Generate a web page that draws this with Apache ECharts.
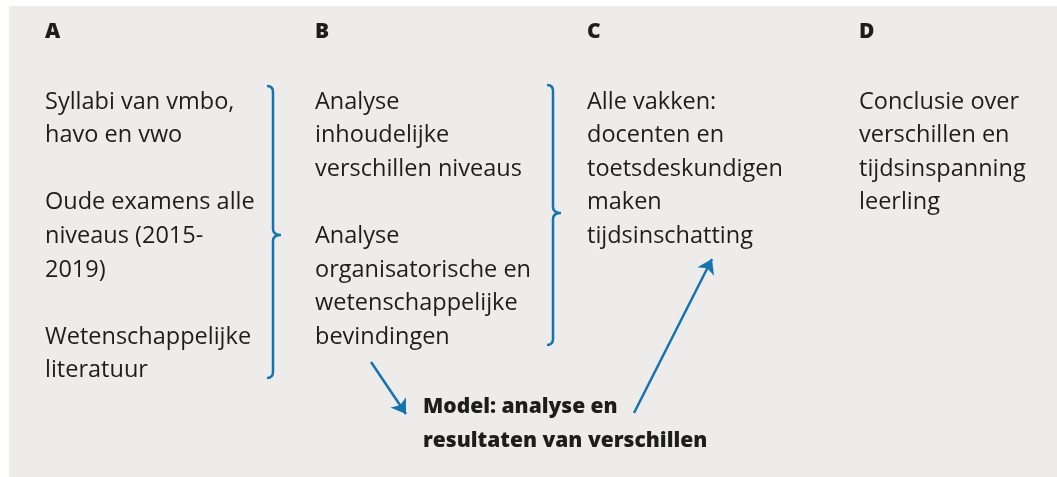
<!DOCTYPE html>
<html>
<head>
    <meta charset="utf-8"/>
    <title>Model tijdsinspanning</title>
    <script src="https://cdn.jsdelivr.net/npm/echarts@6/dist/echarts.min.js"></script>
    <style>
        html, body { margin: 0; padding: 0; background: #ffffff; }
        #main { width: 1057px; height: 477px; }
    </style>
</head>
<body>
<div id="main"></div>
<script>
    // kolomkoppen en teksten per kolom (lege regel = witregel)
    var headers = ['A', 'B', 'C', 'D'];
    var colA = ['Syllabi van vmbo,', 'havo en vwo', '', 'Oude examens alle', 'niveaus (2015-', '2019)', '', 'Wetenschappelijke', 'literatuur'];
    var colB = ['Analyse', 'inhoudelijke', 'verschillen niveaus', '', 'Analyse', 'organisatorische en', 'wetenschappelijke', 'bevindingen'];
    var colC = ['Alle vakken:', 'docenten en', 'toetsdeskundigen', 'maken', 'tijdsinschatting'];
    var colD = ['Conclusie over', 'verschillen en', 'tijdsinspanning', 'leerling'];
    var modelLines = ['Model: analyse en', 'resultaten van verschillen'];

    // layout (pixels)
    var colX = [45, 315, 587, 859];
    var headerY = 32;
    var rowY0 = 102, rowH = 33.6;
    var modelX = 423, modelY0 = 407;
    var braces = [[273, 86, 378, 235], [553, 85, 345, 213]];   // x, top, bottom, tip
    var arrows = [[[371, 362], [406, 414]], [[634, 413], [712, 259]]];

    var blue = '#1574b0';
    var ink = '#1d1d1b';
    var bodyFont = '23.5px "Open Sans"';
    var boldFont = '800 21px "Open Sans"';

    var textData = [];
    headers.forEach(function (h, i) {
        textData.push({value: [colX[i], headerY], name: h, bold: true});
    });
    [colA, colB, colC, colD].forEach(function (col, i) {
        col.forEach(function (t, r) {
            if (t) textData.push({value: [colX[i], rowY0 + r * rowH], name: t});
        });
    });
    modelLines.forEach(function (t, r) {
        textData.push({value: [modelX, modelY0 + r * rowH], name: t, bold: true});
    });

    var myChart = echarts.init(document.getElementById('main'));
    var option = {
        animation: false,
        grid: {left: 0, right: 0, top: 0, bottom: 0},
        xAxis: {type: 'value', min: 0, max: 1057, show: false},
        yAxis: {type: 'value', min: 0, max: 477, inverse: true, show: false},
        graphic: [{
            type: 'rect',
            shape: {x: 9, y: 6, width: 1048, height: 471},
            style: {fill: '#edecea'},
            z: -10
        }],
        series: [
            {
                type: 'custom',
                coordinateSystem: 'cartesian2d',
                data: textData,
                renderItem: function (params, api) {
                    var item = textData[params.dataIndex];
                    var p = api.coord([api.value(0), api.value(1)]);
                    return {
                        type: 'text',
                        x: p[0],
                        y: p[1],
                        style: {
                            text: item.name,
                            font: item.bold ? boldFont : bodyFont,
                            fill: ink,
                            align: 'left',
                            verticalAlign: 'middle'
                        }
                    };
                }
            },
            {
                type: 'custom',
                coordinateSystem: 'cartesian2d',
                data: braces,
                renderItem: function (params, api) {
                    var top = api.coord([api.value(0), api.value(1)]);
                    var bot = api.coord([api.value(0), api.value(2)]);
                    var tip = api.coord([api.value(0), api.value(3)]);
                    var x = top[0], c = 6, j = 8;
                    var d = 'M' + (x - c) + ' ' + top[1] +
                        ' Q' + x + ' ' + top[1] + ' ' + x + ' ' + (top[1] + c) +
                        ' L' + x + ' ' + (tip[1] - c) +
                        ' Q' + x + ' ' + tip[1] + ' ' + (x + j) + ' ' + tip[1] +
                        ' Q' + x + ' ' + tip[1] + ' ' + x + ' ' + (tip[1] + c) +
                        ' L' + x + ' ' + (bot[1] - c) +
                        ' Q' + x + ' ' + bot[1] + ' ' + (x - c) + ' ' + bot[1];
                    return {
                        type: 'path',
                        shape: {pathData: d},
                        style: {fill: 'none', stroke: blue, lineWidth: 2.5}
                    };
                }
            },
            {
                type: 'lines',
                coordinateSystem: 'cartesian2d',
                symbol: ['none', 'arrow'],
                symbolSize: 14,
                lineStyle: {color: blue, width: 2.5, opacity: 1},
                data: arrows.map(function (a) { return {coords: a}; })
            }
        ]
    };
    myChart.setOption(option);
</script>
</body>
</html>
